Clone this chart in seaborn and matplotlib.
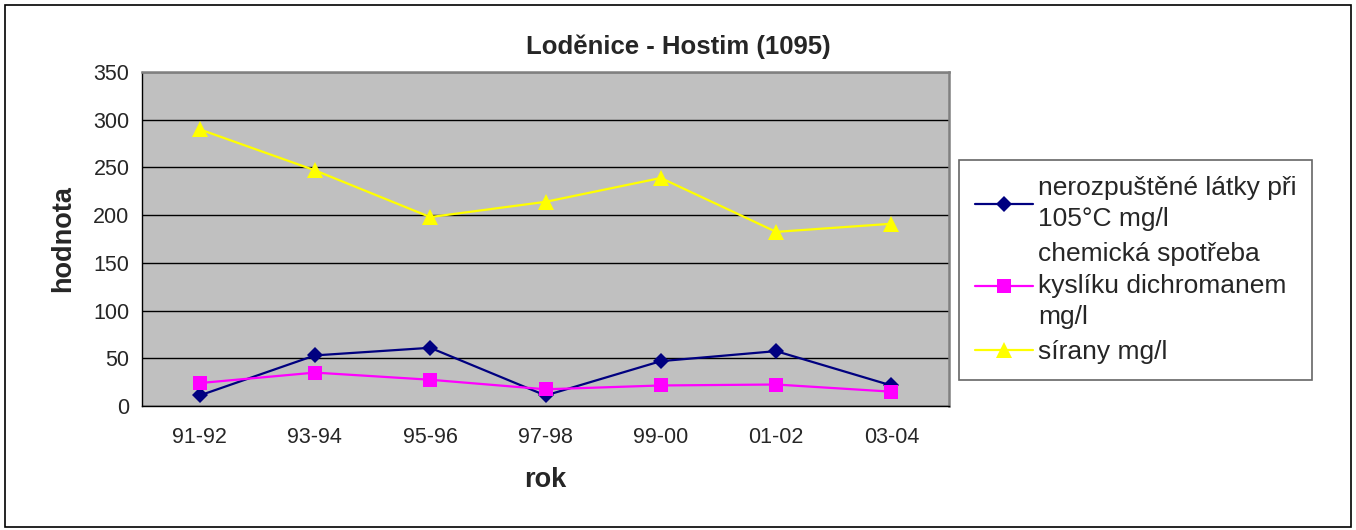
import matplotlib
matplotlib.use("Agg")
import matplotlib.pyplot as plt
import seaborn as sns
import pandas as pd
from matplotlib.patches import Rectangle
from matplotlib.ticker import FixedLocator

roky = ["91-92", "93-94", "95-96", "97-98", "99-00", "01-02", "03-04"]
nerozpustene = [11, 53, 61, 11, 47, 57.5, 21.5]
chsk = [24, 35, 27.5, 17.5, 21.5, 22.5, 15]
sirany = [290, 247, 198, 214, 239, 182.5, 191]

nazvy = ["nerozpuštěné látky při\n105°C mg/l",
         "chemická spotřeba\nkyslíku dichromanem\nmg/l",
         "sírany mg/l"]
barvy = ["#000080", "#FF00FF", "#FFFF00"]
znacky = ["D", "s", "^"]

df = pd.DataFrame({"pos": list(range(len(roky))) * 3,
                   "hodnota": nerozpustene + chsk + sirany,
                   "serie": [n for n in nazvy for _ in roky]})

sns.set_style("white")
plt.rcParams["font.family"] = ["Liberation Sans", "DejaVu Sans"]

fig = plt.figure(figsize=(13.56, 5.30), dpi=100)
ax = fig.add_axes([0.1047, 0.234, 0.5952, 0.630])
ax.set_facecolor("#C0C0C0")

sns.lineplot(data=df, x="pos", y="hodnota", hue="serie", style="serie",
             hue_order=nazvy, palette=dict(zip(nazvy, barvy)),
             markers=dict(zip(nazvy, znacky)), dashes=False,
             linewidth=1.6, markersize=10, markeredgewidth=0,
             legend=False, ax=ax)
for ln, m in zip(ax.get_lines(), znacky):
    if m == "D":
        ln.set_markersize(8.5)
    elif m == "^":
        ln.set_markersize(11)

ax.set_xlim(-0.5, len(roky) - 0.5)
ax.set_ylim(0, 350)
ax.set_yticks(range(0, 351, 50))
ax.set_xticks(range(len(roky)))
ax.set_xticklabels(roky)
ax.xaxis.set_minor_locator(FixedLocator([i - 0.5 for i in range(len(roky) + 1)]))
ax.tick_params(axis="x", which="major", length=0, pad=15, labelsize=15.5)
ax.tick_params(axis="x", which="minor", length=5, width=1, color="black", direction="out")
ax.tick_params(axis="y", length=5, width=1, color="black", direction="out", labelsize=15.5, pad=4)
ax.yaxis.grid(True, color="black", linewidth=1)
ax.set_axisbelow(True)

for s in ["top", "right"]:
    ax.spines[s].set_color("#808080")
    ax.spines[s].set_linewidth(1.8)
for s in ["left", "bottom"]:
    ax.spines[s].set_color("black")
    ax.spines[s].set_linewidth(1)

ax.set_xlabel("rok", fontsize=19.5, fontweight="bold", labelpad=14)
ax.set_ylabel("hodnota", fontsize=19.5, fontweight="bold", labelpad=12)
fig.text(0.5, 0.911, "Loděnice - Hostim (1095)", ha="center", va="center",
         fontsize=18.5, fontweight="bold")

leg = fig.legend(ax.get_lines()[:3], nazvy, loc="upper left",
                 bbox_to_anchor=(0.707, 0.698), fontsize=19, frameon=True,
                 fancybox=False, edgecolor="#404040", handlelength=2.2,
                 handletextpad=0.2, labelspacing=0.4, borderpad=0.6,
                 borderaxespad=0)
leg.get_frame().set_linewidth(1.2)
for t in leg.get_texts():
    t.set_linespacing(1.4)

fig.patches.append(Rectangle((0.004, 0.006), 0.992, 0.985, transform=fig.transFigure,
                             fill=False, edgecolor="black", linewidth=1.2))

fig.savefig("out.png", dpi=100, facecolor="white")
